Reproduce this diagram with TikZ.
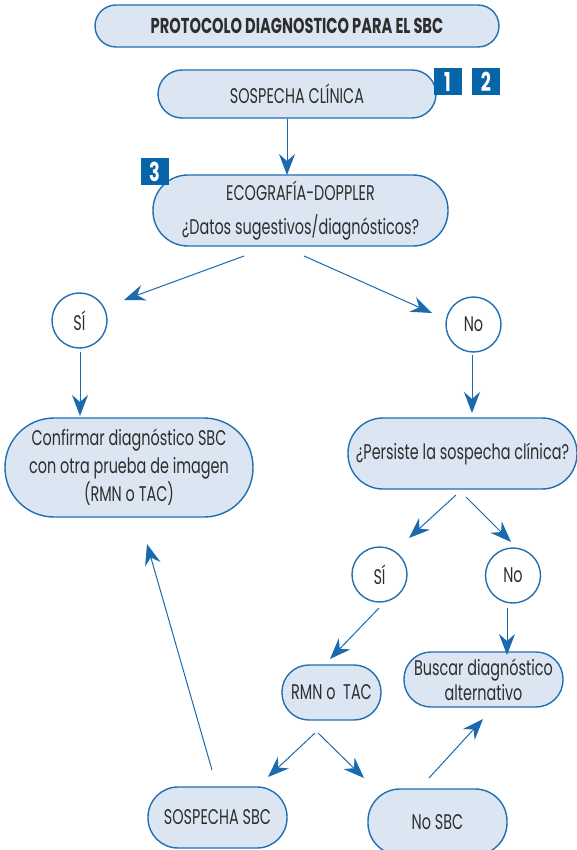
\documentclass[tikz,border=0pt]{standalone}
\usepackage{fontspec}
\setmainfont{Poppins}[FakeStretch=0.68]
\usetikzlibrary{arrows.meta}
\definecolor{bblue}{HTML}{1F6FB2}
\definecolor{bfill}{HTML}{DCE6F2}
\definecolor{ablue}{HTML}{1A6AAD}
\definecolor{badgeblue}{HTML}{0565A8}
\definecolor{txt}{HTML}{2E2E2E}
\begin{document}
\begin{tikzpicture}[x=1pt,y=-1pt,
  box/.style={draw=bblue, line width=1.4pt, fill=bfill, inner sep=0pt, align=center, text=txt,
    font=\fontsize{21.2}{28}\selectfont},
  ring/.style={circle, draw=bblue, line width=1.4pt, fill=white, inner sep=0pt, minimum size=55pt,
    text=txt, font=\fontsize{21.2}{22}\selectfont},
  badge/.style={fill=badgeblue, inner sep=0pt, minimum width=28pt, minimum height=27pt,
    text=white, font=\fontsize{26}{26}\selectfont\bfseries},
  arr/.style={draw=ablue, line width=1pt, -{Stealth[length=21pt,width=16pt,inset=7pt]}}
]
\useasboundingbox (0,0) rectangle (577,850);

% boxes
\node[box, rounded corners=21pt, minimum width=404pt, minimum height=42pt,
  font=\fontsize{21.5}{22}\selectfont\bfseries] (title) at (297,26) {PROTOCOLO DIAGNOSTICO PARA EL SBC};
\node[box, rounded corners=24pt, minimum width=278pt, minimum height=48pt] (sosp) at (297,94) {SOSPECHA CLÍNICA};
\node[box, rounded corners=35pt, minimum width=295pt, minimum height=71pt,
  font=\fontsize{21.2}{34}\selectfont] (eco) at (300.5,210.5) {ECOGRAFÍA-DOPPLER\\¿Datos sugestivos/diagnósticos?};
\node[ring] (si1) at (79.5,320.5) {SÍ};
\node[ring] (no1) at (473.5,324.5) {No};
\node[box, rounded corners=49pt, minimum width=248pt, minimum height=99pt] (conf) at (129,467.5)
  {Confirmar diagnóstico SBC\\con otra prueba de imagen\\(RMN o TAC)};
\node[box, rounded corners=35pt, minimum width=229pt, minimum height=71pt] (pers) at (462.5,453.5)
  {¿Persiste la sospecha clínica?};
\node[ring] (si2) at (379.5,574.5) {SÍ};
\node[ring] (no2) at (513,575.5) {No};
\node[box, rounded corners=27pt, minimum width=99pt, minimum height=55pt] (rmn) at (331.5,692.5) {RMN o\ \ TAC};
\node[box, rounded corners=27pt, minimum width=159pt, minimum height=55pt,
  font=\fontsize{21.2}{25}\selectfont] (busc) at (483.5,679.5) {Buscar diagnóstico\\alternativo};
\node[box, rounded corners=30pt, minimum width=139pt, minimum height=61pt] (ssbc) at (217.5,817.5) {SOSPECHA SBC};
\node[box, rounded corners=32pt, minimum width=139pt, minimum height=66pt] (nsbc) at (437.5,822) {No SBC};

% badges
\node[badge] (b1) at (447.5,82) {1};
\node[badge] (b2) at (486,82) {2};
\node[badge] (b3) at (154.5,171.5) {3};

% connectors
\draw[arr] ([shift={(-10,25)}]sosp.center) -- ([shift={(-13.5,-35.5)}]eco.center);
\draw[arr] ([shift={(-56.5,45.5)}]eco.center) -- ([shift={(44.5,-20.5)}]si1.center);
\draw[arr] ([shift={(3.5,45.5)}]eco.center) -- ([shift={(-41.5,-11.5)}]no1.center);
\draw[arr] ([shift={(0.5,31.5)}]si1.center) -- ([shift={(-49,-51.5)}]conf.center);
\draw[arr] ([shift={(-1.5,30.5)}]no1.center) -- ([shift={(9.5,-40.5)}]pers.center);
\draw[arr] ([shift={(-6.5,41.5)}]pers.center) -- ([shift={(29.5,-36.5)}]si2.center);
\draw[arr] ([shift={(3.5,43.5)}]pers.center) -- ([shift={(-2,-33.5)}]no2.center);
\draw[arr] ([shift={(-0.5,33.5)}]si2.center) -- ([shift={(-1.5,-33.5)}]rmn.center);
\draw[arr] ([shift={(-6,32.5)}]no2.center) -- ([shift={(23.5,-24.5)}]busc.center);
\draw[arr] ([shift={(-16.5,40.5)}]rmn.center) -- ([shift={(50.5,-40.5)}]ssbc.center);
\draw[arr] ([shift={(-13.5,40.5)}]rmn.center) -- ([shift={(-73.5,-44)}]nsbc.center);
\draw[arr] ([shift={(-5.5,-47.5)}]ssbc.center) -- ([shift={(18,76.5)}]conf.center);
\draw[arr] ([shift={(-8.5,-44)}]nsbc.center) -- ([shift={(-0.5,39.5)}]busc.center);
\end{tikzpicture}
\end{document}
